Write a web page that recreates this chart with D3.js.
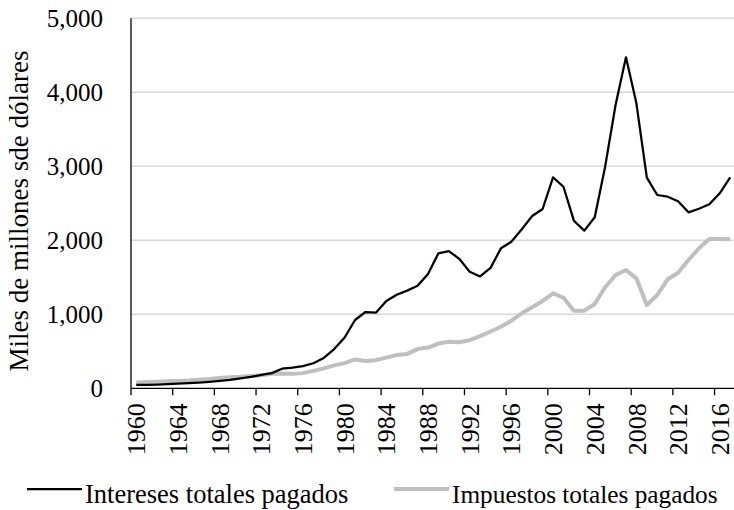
<!DOCTYPE html>
<html>
<head>
<meta charset="utf-8">
<script src="https://cdn.jsdelivr.net/npm/d3@7"></script>
<style>
body{margin:0;background:#fff;}
svg text{font-family:"Liberation Serif","Times New Roman",serif;fill:#000;}
</style>
</head>
<body>
<svg id="chart" font-family="Liberation Serif, Times New Roman, serif"></svg>
<script>
var years = d3.range(1960, 2018);
var intereses = [45,47,50,55,62,70,78,88,100,115,135,155,180,205,265,278,300,338,410,530,
  687,923,1031,1022,1180,1265,1320,1385,1545,1824,1855,1750,1576,1512,1626,1892,1981,2149,2328,2423,
  2851,2724,2265,2130,2311,2995,3828,4473,3851,2846,2612,2589,2527,2378,2427,2486,2635,2851];
var impuestos = [80,85,90,95,100,105,115,125,140,150,155,165,175,195,200,195,205,235,270,310,
  340,390,370,380,415,450,465,530,550,605,628,622,650,705,768,832,914,1014,1095,1180,
  1284,1224,1049,1049,1139,1365,1531,1599,1486,1126,1261,1473,1562,1734,1892,2018,2018,2014];
var yTicks = [0,1000,2000,3000,4000,5000];
var xLabelYears = d3.range(1960, 2018, 4);
var seriesNames = ["Intereses totales pagados","Impuestos totales pagados"];

var width=734, height=510;
var margin={left:131, right:-1.4, top:18.3, bottom:121.7};

var svg=d3.select("#chart")
          .attr("width",width)
          .attr("height",height);

var xScale=d3.scaleBand()
             .domain(years)
             .range([margin.left, width-margin.right])
             .padding(0);
var yScale=d3.scaleLinear()
             .domain([0,5000])
             .range([height-margin.bottom, margin.top]);

// gridlines
svg.append("g")
   .selectAll("line")
   .data(yTicks.slice(1))
   .enter()
   .append("line")
   .attr("x1",margin.left)
   .attr("x2",width)
   .attr("y1",function(d){return yScale(d);})
   .attr("y2",function(d){return yScale(d);})
   .attr("stroke","#d9d9d9")
   .attr("stroke-width",1.5);

// y labels
svg.append("g")
   .selectAll("text")
   .data(yTicks)
   .enter()
   .append("text")
   .attr("x",103)
   .attr("y",function(d){return yScale(d);})
   .attr("dy","0.35em")
   .attr("text-anchor","end")
   .style("font-size","25px")
   .text(function(d){return d3.format(",")(d);});

// y axis title
svg.append("text")
   .attr("transform","translate(28,211) rotate(-90)")
   .attr("text-anchor","middle")
   .style("font-size","27px")
   .text("Miles de millones sde dólares");

var line=function(vals){
  return d3.line()
           .x(function(d,i){return xScale(years[i])+xScale.bandwidth()/2;})
           .y(function(d){return yScale(d);})(vals);
};

svg.append("path")
   .attr("d",line(impuestos))
   .attr("fill","none")
   .attr("stroke","#bfbfbf")
   .attr("stroke-width",4)
   .attr("stroke-linejoin","round");
svg.append("path")
   .attr("d",line(intereses))
   .attr("fill","none")
   .attr("stroke","#000")
   .attr("stroke-width",2.25)
   .attr("stroke-linejoin","round");

// axes lines
var y0=yScale(0);
svg.append("line")
   .attr("x1",margin.left).attr("x2",margin.left)
   .attr("y1",margin.top).attr("y2",y0)
   .attr("stroke","#000").attr("stroke-width",1.3);
svg.append("line")
   .attr("x1",margin.left).attr("x2",width)
   .attr("y1",y0).attr("y2",y0)
   .attr("stroke","#000").attr("stroke-width",1.3);

// x ticks at category boundaries
svg.append("g")
   .selectAll("line")
   .data(xLabelYears)
   .enter()
   .append("line")
   .attr("x1",function(d){return xScale(d);})
   .attr("x2",function(d){return xScale(d);})
   .attr("y1",y0)
   .attr("y2",y0+7)
   .attr("stroke","#000")
   .attr("stroke-width",1.3);

// x labels
svg.append("g")
   .selectAll("text")
   .data(xLabelYears)
   .enter()
   .append("text")
   .attr("transform",function(d){
     return "translate("+(xScale(d)+xScale.bandwidth()/2)+","+(y0+15)+") rotate(-90)";
   })
   .attr("dy","0.35em")
   .attr("text-anchor","end")
   .style("font-size","26px")
   .text(function(d){return d;});

// legend
var legend=[{x:27,color:"#000",w:2.25,fs:26.5},{x:394,color:"#bfbfbf",w:4,fs:25.3}];
var lg=svg.append("g")
          .selectAll("g")
          .data(legend)
          .enter()
          .append("g")
          .attr("transform",function(d){return "translate("+d.x+",489)";});
lg.append("line")
  .attr("x1",0).attr("x2",55)
  .attr("y1",0).attr("y2",0)
  .attr("stroke",function(d){return d.color;})
  .attr("stroke-width",function(d){return d.w;});
lg.append("text")
  .attr("x",58)
  .attr("y",14)
  .style("font-size",function(d){return d.fs+"px";})
  .text(function(d,i){return seriesNames[i];});
</script>
</body>
</html>
